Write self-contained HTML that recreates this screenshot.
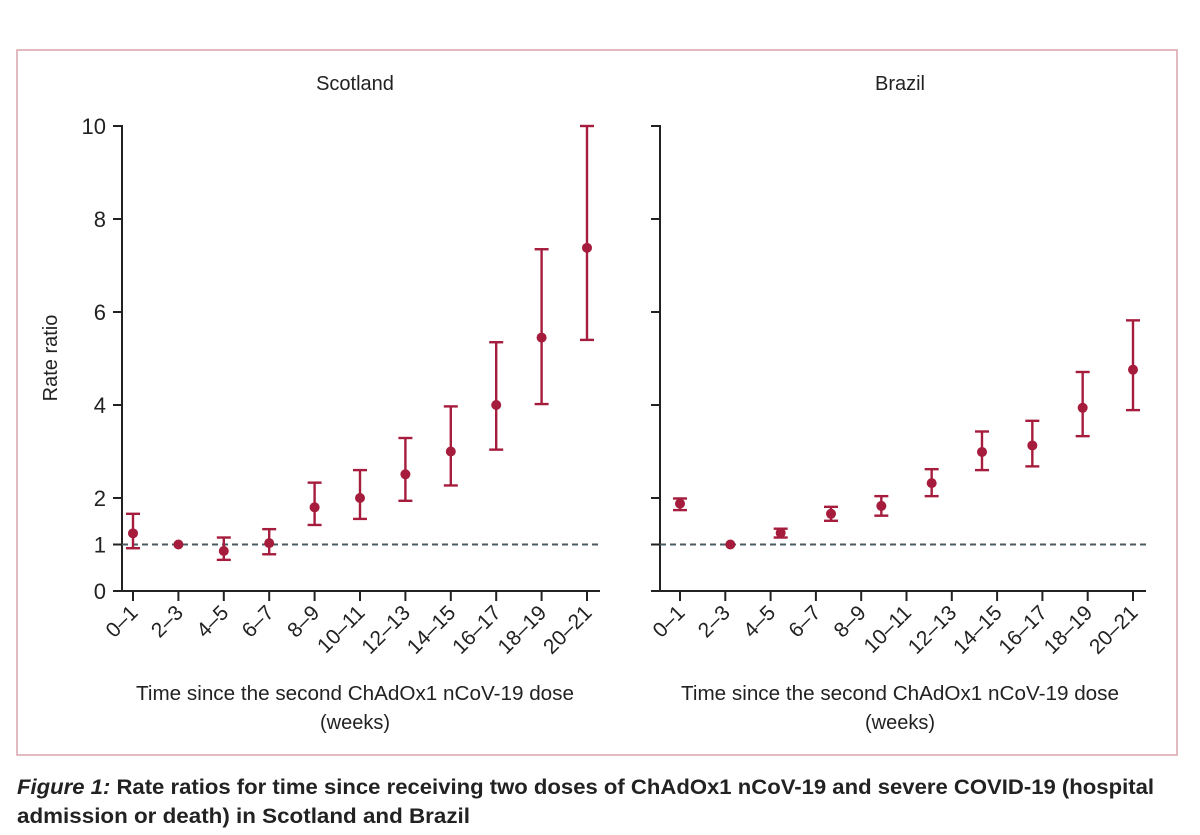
<!DOCTYPE html>
<html><head><meta charset="utf-8"><style>
html,body{margin:0;padding:0;background:#fff;}
svg{display:block;}
text{font-family:"Liberation Sans Narrow","Liberation Sans",sans-serif;fill:#222;}
</style></head><body>
<svg id="chart" width="1200" height="835" viewBox="0 0 1200 835" xmlns="http://www.w3.org/2000/svg">
<rect x="17" y="50" width="1160" height="705" fill="none" stroke="#d9a3ab" stroke-width="1.5"/>
<g id="plots"></g>
<text x="17" y="794" font-size="21" font-weight="bold" textLength="1137" lengthAdjust="spacingAndGlyphs"><tspan font-style="italic">Figure 1:</tspan> Rate ratios for time since receiving two doses of ChAdOx1 nCoV-19 and severe COVID-19 (hospital</text>
<text x="17" y="823" font-size="21" font-weight="bold" textLength="453" lengthAdjust="spacingAndGlyphs">admission or death) in Scotland and Brazil</text>
</svg>
<script>
const categories = ["0–1","2–3","4–5","6–7","8–9","10–11","12–13","14–15","16–17","18–19","20–21"];
const yTicks = [0,1,2,4,6,8,10];
const scotlandEst = [1.24,1.0,0.86,1.03,1.8,2.0,2.51,3.0,4.0,5.45,7.38];
const scotlandLo  = [0.92,1.0,0.67,0.79,1.42,1.55,1.94,2.27,3.04,4.02,5.4];
const scotlandHi  = [1.66,1.0,1.15,1.33,2.33,2.6,3.29,3.97,5.35,7.35,10.0];
const brazilEst = [1.88,1.0,1.25,1.66,1.83,2.32,2.99,3.13,3.94,4.76];
const brazilLo  = [1.74,1.0,1.15,1.51,1.62,2.04,2.60,2.68,3.33,3.89];
const brazilHi  = [1.99,1.0,1.34,1.81,2.04,2.62,3.43,3.66,4.71,5.82];

const NS="http://www.w3.org/2000/svg";
const root=document.getElementById('plots');
function mk(tag,attrs,parent){const e=document.createElementNS(NS,tag);for(const k in attrs)e.setAttribute(k,attrs[k]);(parent||root).appendChild(e);return e;}
const y=v=>591-46.5*v;
const RED="#a51c3c";

function panel(name,title,axisX,x0,x1,est,lo,hi,showLabels,titleX){
  const g=mk('g',{});
  
  
  const t=mk('text',{x:titleX,y:90,'font-size':20,'text-anchor':'middle'},g);t.textContent=title;
  
  
  const ya=mk('line',{x1:axisX,y1:125,x2:axisX,y2:592,stroke:'#222','stroke-width':2},g);
  
  
  const xa=mk('line',{x1:axisX-9,y1:591,x2:x1+13,y2:591,stroke:'#222','stroke-width':2},g);
  
  
  yTicks.forEach(v=>{
    const tk=mk('line',{x1:axisX-9,y1:y(v),x2:axisX,y2:y(v),stroke:'#222','stroke-width':2},g);
    
    
    if(showLabels){const l=mk('text',{x:axisX-16,y:y(v)+8,'font-size':22,'text-anchor':'end'},g);l.textContent=v;
      
      }
  });
  const step=(x1-x0)/(categories.length-1);
  categories.forEach((c,i)=>{
    const cx=x0+i*step;
    const tk=mk('line',{x1:cx,y1:591,x2:cx,y2:601,stroke:'#222','stroke-width':2},g);
    
    
    const l=mk('text',{x:cx+6,y:614,'font-size':21,'text-anchor':'end',transform:`rotate(-45 ${cx+6} 614)`},g);l.textContent=c;
    
    
  });
  const dl=mk('line',{x1:axisX,y1:y(1),x2:x1+13,y2:y(1),stroke:'#4b5a60','stroke-width':2,'stroke-dasharray':'6 4'},g);
  
  
  const pstep=(x1-x0)/(est.length-1);
  est.forEach((v,i)=>{
    const cx=x0+i*pstep;
    const eg=mk('g',{stroke:RED,'stroke-width':2.4},g);
    
    
    if(hi[i]!==lo[i]){
      mk('line',{x1:cx,y1:y(hi[i]),x2:cx,y2:y(lo[i])},eg);
      mk('line',{x1:cx-7,y1:y(hi[i]),x2:cx+7,y2:y(hi[i])},eg);
      mk('line',{x1:cx-7,y1:y(lo[i]),x2:cx+7,y2:y(lo[i])},eg);
    }
    const p=mk('circle',{cx:cx,cy:y(v),r:5,fill:RED},g);
    
    
  });
  const a1=mk('text',{x:titleX,y:700,'font-size':20,'text-anchor':'middle',textLength:438,lengthAdjust:'spacingAndGlyphs'},g);
  a1.textContent='Time since the second ChAdOx1 nCoV-19 dose';
  
  
  const a2=mk('text',{x:titleX,y:729,'font-size':20,'text-anchor':'middle'},g);a2.textContent='(weeks)';
  
  
}
panel('scotland','Scotland',122,133,587,scotlandEst,scotlandLo,scotlandHi,true,355);
panel('brazil','Brazil',660,680,1133,brazilEst,brazilLo,brazilHi,false,900);
const yt=mk('text',{x:57,y:358,'font-size':20,'text-anchor':'middle',transform:'rotate(-90 57 358)'});
yt.textContent='Rate ratio';


</script>
</body></html>
